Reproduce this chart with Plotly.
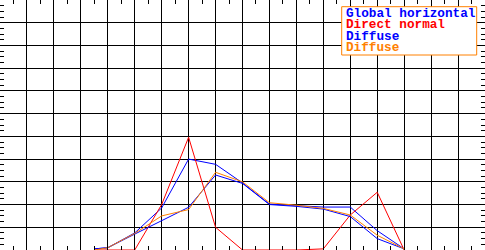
import plotly.graph_objects as go

# hour-like positions (grid units) and series values (grid units)
x = [3.5, 4, 5, 6, 7, 8, 9, 10, 11, 12, 13, 14, 15]
global_horizontal = [0.05, 0.1, 0.75, 1.85, 4.0, 3.77, 2.95, 2.02, 1.95, 1.89, 1.89, 0.85, 0.05]
direct_normal = [0, 0, 0, 2.0, 4.96, 1.0, 0, 0, 0, 0.05, 1.54, 2.54, 0]
diffuse_blue = [0.05, 0.1, 0.7, 1.3, 1.88, 3.3, 2.93, 2.0, 1.92, 1.8, 1.47, 0.5, 0.05]
diffuse_orange = [0, 0.1, 0.73, 1.5, 1.78, 3.42, 3.0, 2.08, 1.97, 1.83, 1.54, 0.65, 0.05]

labels = ["Global horizontal", "Direct normal", "Diffuse", "Diffuse"]
colors = ["#0000ff", "#ff0000", "#0000ff", "#ff8000"]
series = [global_horizontal, direct_normal, diffuse_blue, diffuse_orange]

fig = go.Figure()
for name, col, ys in zip(labels, colors, series):
    fig.add_trace(go.Scatter(x=x, y=ys, mode="lines", name=name, hoverinfo="skip",
                             line=dict(color=col, width=1), showlegend=False))

W, H = 485, 250
axis_common = dict(showticklabels=False, showgrid=True, gridcolor="black", gridwidth=1,
                   showline=True, linecolor="black", linewidth=1, mirror="allticks",
                   ticks="inside", ticklen=4, tickcolor="black", zeroline=False,
                   fixedrange=True)
fig.update_xaxes(range=[0, 18], dtick=1, tick0=0,
                 minor=dict(ticks="inside", ticklen=4, dtick=0.5, tick0=0,
                            tickcolor="black", showgrid=False),
                 **axis_common)
fig.update_yaxes(range=[0, 11], dtick=1, tick0=0,
                 minor=dict(ticks="inside", ticklen=4, dtick=0.25, tick0=0,
                            tickcolor="black", showgrid=False),
                 **axis_common)

# legend box (text-only entries, as in the reference)
box = (341.7, 6.7, 476.7, 55)
fig.add_shape(type="rect", xref="paper", yref="paper",
              x0=box[0] / W, x1=box[2] / W, y0=1 - box[1] / H, y1=1 - box[3] / H,
              line=dict(color="#ff8000", width=1), fillcolor="white", layer="above")
row_y = [13.8, 25.0, 36.2, 47.5]
for name, col, yy in zip(labels, colors, row_y):
    fig.add_annotation(xref="paper", yref="paper", x=344 / W, y=1 - yy / H,
                       xanchor="left", yanchor="middle", showarrow=False,
                       text="<b>" + name + "</b>",
                       font=dict(family="Liberation Mono", size=12.7, color=col))

fig.update_layout(width=W, height=H, margin=dict(l=0, r=0, t=0, b=0),
                  plot_bgcolor="white", paper_bgcolor="white")
fig.write_html("out.html", config={"displayModeBar": False, "staticPlot": True},
               post_script="document.body.style.margin='0';document.body.style.overflow='hidden';")
